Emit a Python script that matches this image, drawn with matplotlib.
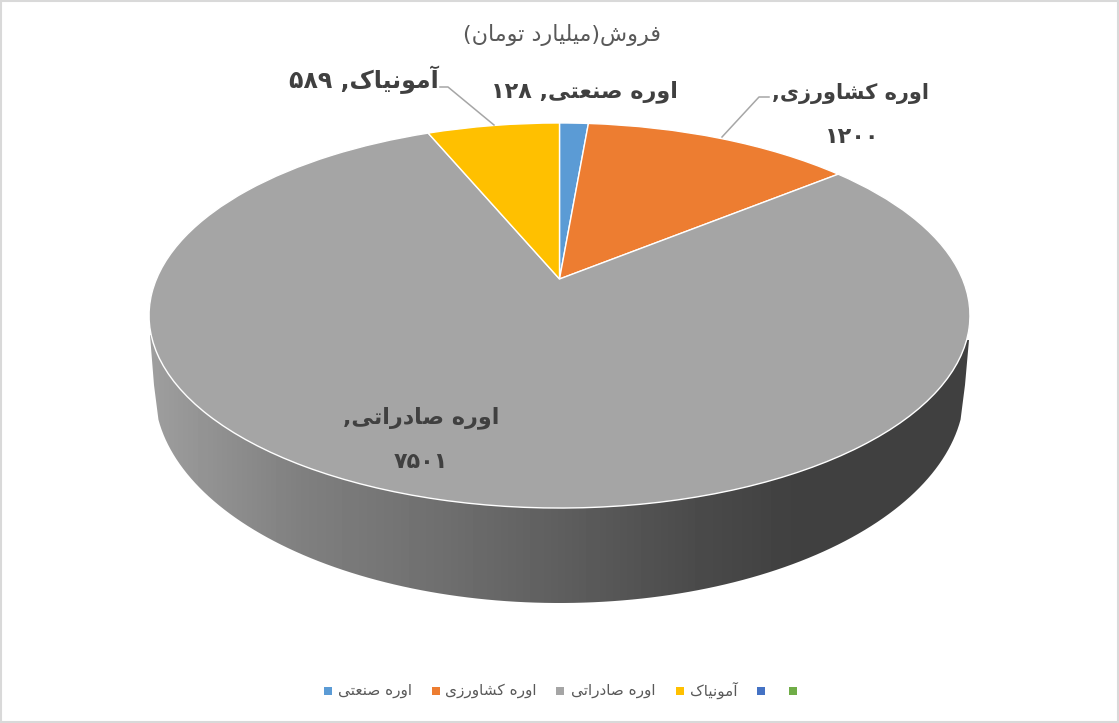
import numpy as np
import matplotlib
matplotlib.use("Agg")
import matplotlib.pyplot as plt
from matplotlib.patches import Polygon, Rectangle
from matplotlib.transforms import Transform

# data
names = ["اوره صنعتی", "اوره کشاورزی", "اوره صادراتی", "آمونیاک"]
values = [128, 1200, 7501, 589]
colors = ["#5B9BD5", "#ED7D31", "#A5A5A5", "#FFC000"]
title = "فروش(میلیارد تومان)"
legend_extra_colors = ["#4472C4", "#70AD47"]

plt.rcParams["font.family"] = ["DejaVu Sans"]

# matplotlib does no arabic shaping, so map letters to presentation forms by hand
# letter: isolated, final, initial, medial
dual = {"ف": 0xFED1, "ش": 0xFEB5, "م": 0xFEE1, "ل": 0xFEDD, "ت": 0xFE95,
        "ن": 0xFEE5, "ه": 0xFEE9, "ص": 0xFEB9, "ع": 0xFEC9}
dual_fa = {"ی": 0xFBFC, "ک": 0xFB8E}
right = {"ا": 0xFE8D, "آ": 0xFE81, "ر": 0xFEAD, "ز": 0xFEAF, "و": 0xFEED, "د": 0xFEA9}


def joins_next(c):
    return c in dual or c in dual_fa


def is_letter(c):
    return c in dual or c in dual_fa or c in right


def shape(line):
    out = []
    for i, c in enumerate(line):
        prev_join = i > 0 and joins_next(line[i - 1])
        next_join = i < len(line) - 1 and is_letter(line[i + 1])
        if c in right:
            out.append(chr(right[c] + (1 if prev_join else 0)))
        elif c in dual or c in dual_fa:
            base = dual[c] if c in dual else dual_fa[c]
            if prev_join and next_join:
                out.append(chr(base + 3))
            elif next_join:
                out.append(chr(base + 2))
            elif prev_join:
                out.append(chr(base + 1))
            else:
                out.append(chr(base))
        else:
            out.append(c)
    # visual order: reverse everything, then put digit runs back
    vis = "".join(reversed(out)).translate(str.maketrans("()", ")("))
    res, run = "", ""
    for c in vis:
        if c in "۰۱۲۳۴۵۶۷۸۹":
            run += c
        else:
            res += run[::-1] + c
            run = ""
    return res + run[::-1]


def fa_digits(n):
    return str(n).translate(str.maketrans("0123456789", "۰۱۲۳۴۵۶۷۸۹"))


class Persp(Transform):
    # unit circle -> tilted disc in pixel coordinates
    input_dims = 2
    output_dims = 2
    is_affine = False
    has_inverse = False

    def transform_non_affine(self, values):
        values = np.asarray(values)
        w = 1 + 0.1896 * values[:, 1]
        return np.column_stack((559.5 + 403 * values[:, 0] / w, 279 - 185.6 * values[:, 1] / w))


fig = plt.figure(figsize=(11.19, 7.23), dpi=100)
ax = fig.add_axes([0, 0, 1, 1])

# side of the disc, gradient clipped to lower ellipse
t = np.linspace(np.radians(-172), np.radians(-8), 120)
rim_x = 559.5 + 405 * np.cos(t)
rim_y = 390 - 213 * np.sin(t)
rim_pts = np.vstack(([150, 335], [154, 385], np.column_stack((rim_x, rim_y)), [965, 385], [969, 340]))
xs = np.arange(140, 980)
shade = np.interp(xs, [150, 300, 450, 560, 700, 800, 970], [0.62, 0.50, 0.43, 0.37, 0.29, 0.25, 0.25])
im = ax.imshow(shade[None, :], cmap="gray", vmin=0, vmax=1, aspect="auto",
               extent=[140, 980, 620, 320], zorder=1)
clip = Polygon(rim_pts, closed=True, transform=ax.transData, fc="none", ec="none")
ax.add_patch(clip)
im.set_clip_path(clip)

wedges, _ = ax.pie(values, colors=colors, startangle=90, counterclock=False,
                   wedgeprops=dict(edgecolor="white", linewidth=1.0, zorder=2))
persp = Persp()
for w in wedges:
    w.set_transform(persp + ax.transData)

ax.set_aspect("auto")
ax.set_xlim(0, 1119)
ax.set_ylim(723, 0)
ax.axis("off")

# leader lines
ax.plot([494, 448, 440], [125, 87, 87], color="#A6A6A6", lw=1.1, zorder=3)
ax.plot([722, 759, 769], [137, 97, 97], color="#A6A6A6", lw=1.1, zorder=3)

ax.text(562, 35, shape(title), ha="center", va="center", fontsize=16, color="#595959")

label_style = dict(ha="center", va="center", fontweight="bold", color="#404040", zorder=4)
ax.text(584, 92, shape(names[0] + ", " + fa_digits(values[0])), fontsize=16, **label_style)
ax.text(851, 93, shape(names[1] + ","), fontsize=15, **label_style)
ax.text(852, 137, fa_digits(values[1]), fontsize=16, **label_style)
ax.text(421, 418, shape(names[2] + ","), fontsize=16, **label_style)
ax.text(421, 462, fa_digits(values[2]), fontsize=16, **label_style)
ax.text(364, 80, shape(names[3] + ", " + fa_digits(values[3])), fontsize=17, **label_style)

# legend row
marker_x = [328, 436, 560, 680]
text_x = [375, 491, 613, 714]
for mx, tx, c, n in zip(marker_x, text_x, colors, names):
    ax.scatter([mx], [691], marker="s", s=26, color=c, linewidths=0, zorder=4)
    ax.text(tx, 690, shape(n), ha="center", va="center", fontsize=11, color="#595959")
for mx, c in zip([761, 793], legend_extra_colors):
    ax.scatter([mx], [691], marker="s", s=26, color=c, linewidths=0, zorder=4)

ax.add_patch(Rectangle((1, 1), 1117, 721, fc="none", ec="#D9D9D9", lw=1.5, zorder=5))

fig.savefig("out.png", dpi=100)
